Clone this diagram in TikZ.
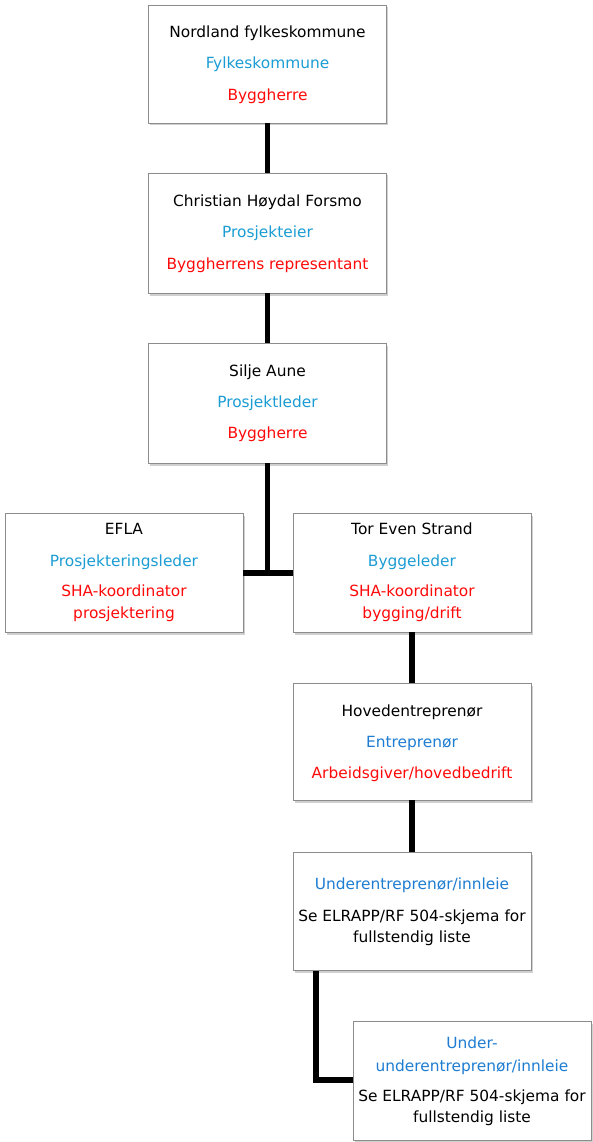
\documentclass[tikz,border=0pt]{standalone}
\usepackage{fontspec}
\setmainfont{DejaVu Sans}
\usetikzlibrary{shadows}
\definecolor{roleblue}{RGB}{27,157,212}
\definecolor{entblue}{RGB}{30,125,210}
\definecolor{rolered}{RGB}{255,10,10}
\definecolor{boxline}{RGB}{140,140,140}
\tikzset{
  orgbox/.style={draw=boxline, line width=0.9pt, fill=white, minimum width=238pt, minimum height=118pt, inner sep=0pt,
    drop shadow={shadow xshift=1.5pt, shadow yshift=-2.5pt, opacity=0.3, fill=black!60}},
  txt/.style={anchor=base, inner sep=0pt, font=\fontsize{15.4}{18}\selectfont},
  nm/.style={txt, text=black},
  bl/.style={txt, text=roleblue},
  eb/.style={txt, text=entblue},
  rd/.style={txt, text=rolered},
  conn/.style={line width=5.5pt, black}
}
\begin{document}
\begin{tikzpicture}[x=1pt,y=-1pt]
\useasboundingbox[fill=white] (0,0) rectangle (592,1142);
% boxes
\node[orgbox, minimum height=118pt] (b1) at (267.5,64) {};
\node[orgbox, minimum height=120pt] (b2) at (267.5,233) {};
\node[orgbox, minimum height=120pt] (b3) at (267.5,403) {};
\node[orgbox, minimum height=119pt] (efla) at (124,572.5) {};
\node[orgbox, minimum height=119pt] (tor) at (412,572.5) {};
\node[orgbox, minimum height=117pt] (hov) at (412,741.5) {};
\node[orgbox, minimum height=118pt] (und) at (412,911.5) {};
\node[orgbox, minimum height=119pt] (uu) at (472,1080.5) {};
% connectors
\draw[conn] (b1.south) -- (b2.north);
\draw[conn] (b2.south) -- (b3.north);
\coordinate (j) at (267.5,573);
\draw[conn] (b3.south) -- (j);
\draw[conn] (efla.east |- j) -- (tor.west |- j);
\draw[conn] (tor.south) -- (hov.north);
\draw[conn] (hov.south) -- (und.north);
\coordinate (k) at (316,1080);
\draw[conn] (und.south -| k) -- (k) -- (uu.west |- k);
% texts
\node[nm] (t1a) at (267.5,37.5) {Nordland fylkeskommune};
\node[bl] (t1b) at (267.5,68.5) {Fylkeskommune};
\node[rd] (t1c) at (267.5,100.5) {Byggherre};
\node[nm] (t2a) at (267.5,206) {Christian Høydal Forsmo};
\node[bl] (t2b) at (267.5,237) {Prosjekteier};
\node[rd] (t2c) at (267.5,269) {Byggherrens representant};
\node[nm] (t3a) at (267.5,376) {Silje Aune};
\node[bl] (t3b) at (267.5,407) {Prosjektleder};
\node[rd] (t3c) at (267.5,438) {Byggherre};
\node[nm] (tea) at (124,534) {EFLA};
\node[bl] (teb) at (124,566) {Prosjekteringsleder};
\node[rd] (tec) at (124,596) {SHA-koordinator};
\node[rd] (ted) at (124,618) {prosjektering};
\node[nm] (tta) at (412,534) {Tor Even Strand};
\node[bl] (ttb) at (412,566) {Byggeleder};
\node[rd] (ttc) at (412,596) {SHA-koordinator};
\node[rd] (ttd) at (412,618) {bygging/drift};
\node[nm] (tha) at (412,716) {Hovedentreprenør};
\node[eb] (thb) at (412,747) {Entreprenør};
\node[rd] (thc) at (412,778) {Arbeidsgiver/hovedbedrift};
\node[eb] (tua) at (412,889) {Underentreprenør/innleie};
\node[nm] (tub) at (412,921) {Se ELRAPP/RF 504-skjema for};
\node[nm] (tuc) at (412,942) {fullstendig liste};
\node[eb] (tva) at (472,1048) {Under-};
\node[eb] (tvb) at (472,1071) {underentreprenør/innleie};
\node[nm] (tvc) at (472,1101) {Se ELRAPP/RF 504-skjema for};
\node[nm] (tvd) at (472,1122) {fullstendig liste};
\end{tikzpicture}
\end{document}
